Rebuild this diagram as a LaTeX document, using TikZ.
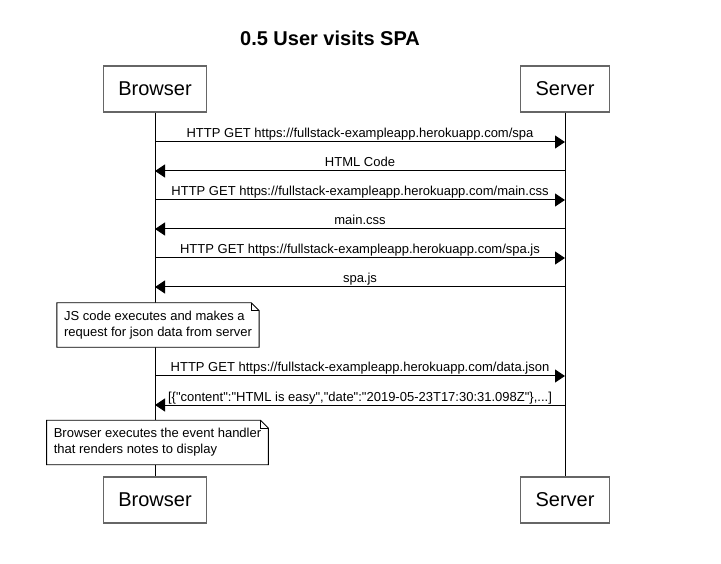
\documentclass[tikz,border=0pt]{standalone}
\usepackage{fontspec}
\setmainfont{Liberation Sans}[Ligatures=TeXOff]
\usetikzlibrary{positioning,arrows.meta,calc}
\tikzset{
  actor/.style={draw=black!60, line width=1.3pt, fill=white, inner xsep=15pt,
    minimum height=46pt, font=\fontsize{20}{24}\selectfont},
  heading/.style={font=\fontsize{20}{24}\selectfont\bfseries},
  life/.style={draw=black, line width=0.9pt},
  msg/.style={draw=black, line width=1pt, -{Triangle[length=10pt,width=13pt]}},
  msglabel/.style={midway, anchor=base, yshift=4pt, inner sep=0pt,
    font=\fontsize{13}{15}\selectfont},
  note/.style={align=left, inner xsep=7pt, inner ysep=8pt,
    font=\fontsize{13}{16}\selectfont},
  notebox/.style={draw=black, line width=0.9pt, fill=white}
}
% folded note drawn round a node
\newcommand{\notefold}[1]{%
  \fill[white] (#1.south west) rectangle (#1.north east);
  \draw[notebox] (#1.south west) -- (#1.north west) -- ($(#1.north east)+(-8,0)$)
    -- ($(#1.north east)+(0,8)$) -- (#1.south east) -- cycle;
  \draw[notebox, fill=none] ($(#1.north east)+(-8,0)$) |- ($(#1.north east)+(0,8)$);
}
\begin{document}
\begin{tikzpicture}[x=1pt,y=-1pt]
    \useasboundingbox (0,0) rectangle (721,564);

    \node[heading] (title) at (330,38) {0.5 User visits SPA};

    \node[actor] (btop) at (155,89)  {Browser};
    \node[actor] (stop) at (565,89)  {Server};
    \node[actor] (bbot) at (155,500) {Browser};
    \node[actor] (sbot) at (565,500) {Server};

    \draw[life] (btop) -- (bbot);
    \draw[life] (stop) -- (sbot);

    \foreach \i/\y in {1/142,2/171,3/200,4/229,5/258,6/287,7/376,8/405} {
      \coordinate (b\i) at (155,\y);
      \coordinate (s\i) at (565,\y);
    }

    \draw[msg] (b1) -- (s1) node[msglabel] {HTTP GET https://fullstack-exampleapp.herokuapp.com/spa};
    \draw[msg] (s2) -- (b2) node[msglabel] {HTML Code};
    \draw[msg] (b3) -- (s3) node[msglabel] {HTTP GET https://fullstack-exampleapp.herokuapp.com/main.css};
    \draw[msg] (s4) -- (b4) node[msglabel] {main.css};
    \draw[msg] (b5) -- (s5) node[msglabel] {HTTP GET https://fullstack-exampleapp.herokuapp.com/spa.js};
    \draw[msg] (s6) -- (b6) node[msglabel] {spa.js};

    \node[note] (jsnote) at (158,325) {JS code executes and makes a\\request for json data from server};
    \notefold{jsnote}
    \node[note] at (jsnote) {JS code executes and makes a\\request for json data from server};

    \draw[msg] (b7) -- (s7) node[msglabel] {HTTP GET https://fullstack-exampleapp.herokuapp.com/data.json};
    \draw[msg] (s8) -- (b8) node[msglabel] {[\{"content":"HTML is easy","date":"2019-05-23T17:30:31.098Z"\},...]};

    \node[note] (rendernote) at (157.5,442.5) {Browser executes the event handler\\that renders notes to display};
    \notefold{rendernote}
    \node[note] at (rendernote) {Browser executes the event handler\\that renders notes to display};
\end{tikzpicture}
\end{document}
